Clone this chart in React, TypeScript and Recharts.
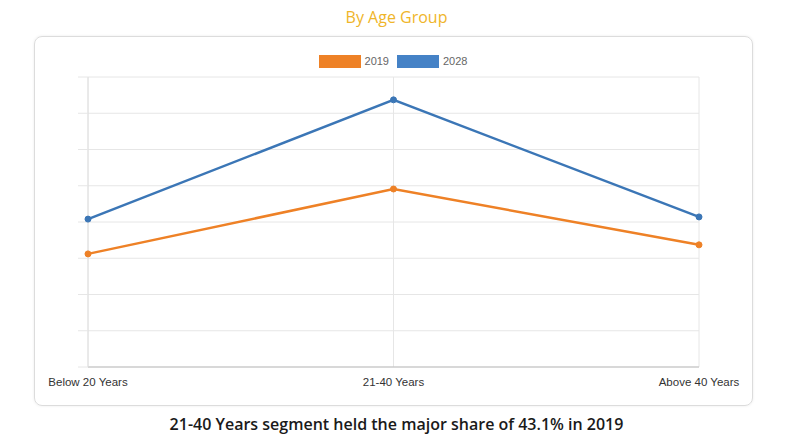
import React from 'react';
import { LineChart, Line, XAxis, YAxis, CartesianGrid } from 'recharts';

const categories = ['Below 20 Years', '21-40 Years', 'Above 40 Years'];
const values2019 = [3.12, 4.91, 3.37];
const values2028 = [4.08, 7.37, 4.14];
const yTicks = [0, 1, 2, 3, 4, 5, 6, 7, 8];
const seriesNames = ['2019', '2028'];

const ORANGE = '#ee8126';
const BLUE = '#3b76b6';

const data = categories.map((c, i) => ({ name: c, y2019: values2019[i], y2028: values2028[i] }));

export default function App() {
  return (
    <div style={{ position: 'absolute', left: 0, top: 0, width: 793, height: 445, background: '#fff', fontFamily: 'Open Sans, sans-serif' }}>
      <div style={{ position: 'absolute', left: 0, width: 793, top: 6, textAlign: 'center', fontSize: 16, color: '#efb52a', fontWeight: 500 }}>
        By Age Group
      </div>
      <div style={{ position: 'absolute', left: 34, top: 36, width: 717, height: 368, border: '1px solid #dcdcdc', borderRadius: 8, boxShadow: '0 0 3px rgba(0,0,0,0.08)' }} />
      <div style={{ position: 'absolute', left: 0, top: 54, width: 786, display: 'flex', justifyContent: 'center', alignItems: 'center', fontFamily: 'Liberation Sans, Arial, sans-serif', fontSize: 11, color: '#666', lineHeight: '15px' }}>
        <span style={{ display: 'inline-block', width: 42, height: 13, background: ORANGE, marginRight: 4 }} />
        <span style={{ marginRight: 8 }}>{seriesNames[0]}</span>
        <span style={{ display: 'inline-block', width: 42, height: 13, background: '#4582c6', marginRight: 4 }} />
        <span>{seriesNames[1]}</span>
      </div>
      <div style={{ position: 'absolute', left: 0, top: 0 }}>
        <LineChart width={793} height={445} data={data} margin={{ top: 77, right: 94, left: 78, bottom: 48 }}>
          <CartesianGrid stroke="#e6e6e6" strokeWidth={1} />
          <XAxis
            dataKey="name"
            axisLine={{ stroke: '#bdbdbd' }}
            tickLine={false}
            tickMargin={5}
            height={30}
            tick={{ fill: '#333', fontSize: 11.5, fontFamily: 'Liberation Sans, Arial, sans-serif' }}
            interval={0}
          />
          <YAxis
            domain={[0, 8]}
            ticks={yTicks}
            width={10}
            tickSize={10}
            axisLine={{ stroke: '#e0e0e0' }}
            tickLine={{ stroke: '#e6e6e6' }}
            tickFormatter={() => ''}
          />
          <Line dataKey="y2019" name={seriesNames[0]} stroke={ORANGE} strokeWidth={2.5} dot={{ r: 3, fill: ORANGE, stroke: ORANGE, strokeWidth: 1 }} isAnimationActive={false} />
          <Line dataKey="y2028" name={seriesNames[1]} stroke={BLUE} strokeWidth={2.5} dot={{ r: 3, fill: BLUE, stroke: BLUE, strokeWidth: 1 }} isAnimationActive={false} />
        </LineChart>
      </div>
      <div style={{ position: 'absolute', left: 0, width: 793, top: 413, textAlign: 'center', fontSize: 16, color: '#1a1a1a', fontWeight: 600 }}>
        21-40 Years segment held the major share of 43.1% in 2019
      </div>
    </div>
  );
}
